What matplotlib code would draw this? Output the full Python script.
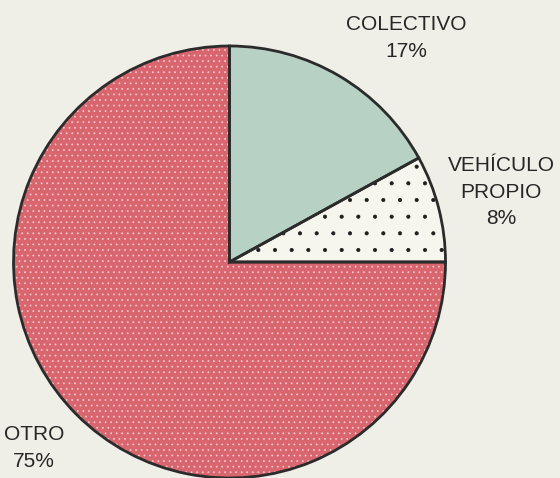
import matplotlib
matplotlib.use("Agg")
import matplotlib.pyplot as plt

plt.rcParams['font.family'] = ['Liberation Sans', 'DejaVu Sans']
plt.rcParams['hatch.linewidth'] = 0.5

labels = ['COLECTIVO', 'VEHÍCULO\nPROPIO', 'OTRO']
shares = [17, 8, 75]
fills = ['#b7d1c4', '#f7f6ee', '#d9666f']
dots = ['', '.', '...']
dot_colors = ['#b7d1c4', '#1e1e1e', '#f2cfcf']
label_pos = [(406, 440), (501, 286), (34, 30)]

bg = '#f0efe7'
fig = plt.figure(figsize=(5.6, 4.78), dpi=100, facecolor=bg)
ax = fig.add_axes([0, 0, 1, 1])
ax.set_facecolor(bg)

center = (229.5, 216)
r = 216

# fills with dot patterns (hatch colour follows edgecolor)
wedges, _ = ax.pie(shares, colors=fills, startangle=90, counterclock=False,
                   center=center, radius=r, frame=True,
                   wedgeprops=dict(linewidth=0))
for w, h, c in zip(wedges, dots, dot_colors):
    w.set_edgecolor(c)
    w.set_hatch(h)
    w.set_linewidth(0)

# outlines
ax.pie(shares, colors=['none'] * 3, startangle=90, counterclock=False,
       center=center, radius=r, frame=True,
       wedgeprops=dict(linewidth=2, edgecolor='#2b2b2b', fill=False))
ax.set_xlim(0, 560)
ax.set_ylim(0, 478)
ax.axis('off')

for lab, s, (x, y) in zip(labels, shares, label_pos):
    ax.text(x, y, f'{lab}\n{s}%', ha='center', va='center', fontsize=15,
            color='#262626', linespacing=1.5)

fig.savefig('out.png', dpi=100, facecolor=bg)
